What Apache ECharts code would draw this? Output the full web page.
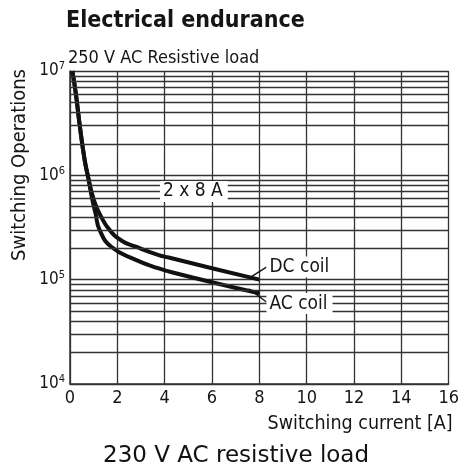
<!DOCTYPE html>
<html>
<head>
<meta charset="utf-8">
<script src="https://cdn.jsdelivr.net/npm/echarts@6/dist/echarts.min.js"></script>
<style>html,body{margin:0;padding:0;background:#fff}#c{width:462px;height:470px}</style>
</head>
<body>
<div id="c"></div>
<script>
// ---- data ----
const xTicks = [0, 2, 4, 6, 8, 10, 12, 14, 16];
const yDecades = [1e4, 1e5, 1e6, 1e7];
const yMinorGrid = [
  2e4, 3e4, 4e4, 5e4, 6e4, 7e4, 8e4, 9e4,
  2e5, 3e5, 4e5, 5e5, 6e5, 7e5, 8e5, 9e5,
  2e6, 3e6, 4e6, 5e6, 6e6, 7e6, 8e6, 9e6
];
const dcCurrent = [0.1, 0.25, 0.42, 0.62, 0.75, 1.02, 1.32, 1.67, 2.2, 2.78, 3.75, 4.17, 6.04, 8.0];
const dcOps     = [1e7, 6e6, 2.9e6, 1.4e6, 1.0e6, 5.7e5, 4.0e5, 3.0e5, 2.35e5, 2.07e5, 1.72e5, 1.63e5, 1.28e5, 1.0e5];
const acCurrent = [0.1, 0.25, 0.42, 0.62, 0.75, 0.92, 1.08, 1.25, 1.74, 2.78, 3.75, 4.17, 6.04, 8.0];
const acOps     = [1e7, 6e6, 2.9e6, 1.4e6, 1.0e6, 6.2e5, 4.3e5, 3.0e5, 2.07e5, 1.55e5, 1.28e5, 1.2e5, 9.4e4, 7.4e4];

const COND = "'Liberation Sans Narrow', 'DejaVu Sans Condensed', 'Roboto Condensed', sans-serif";
const INK = '#151515';
const GRID = '#333';

const chart = echarts.init(document.getElementById('c'), null, {renderer: 'canvas'});
const zip = (a, b) => a.map((v, i) => [v, b[i]]);

chart.setOption({
  backgroundColor: '#fff',
  animation: false,
  title: [
    {text: 'Electrical endurance', left: 61, top: 5,
     textStyle: {fontFamily: COND, fontSize: 23, fontWeight: 'bold', color: INK}},
    {text: '250 V AC Resistive load', left: 63, top: 44,
     textStyle: {fontFamily: COND, fontSize: 18, fontWeight: 'normal', color: INK}},
    {text: '230 V AC resistive load', left: 98, top: 440,
     textStyle: {fontFamily: "'DejaVu Sans', sans-serif", fontSize: 23, fontWeight: 'normal', color: '#111'}}
  ],
  graphic: [
    {type: 'text', x: 20, y: 165, rotation: Math.PI / 2,
     style: {text: 'Switching Operations', fontFamily: COND, fontSize: 20, fill: INK,
             align: 'center', verticalAlign: 'middle'}}
  ],
  grid: {left: 70, right: 8, top: 71, bottom: 86},
  xAxis: {
    type: 'value', min: 0, max: 16, interval: 2,
    name: 'Switching current [A]', nameLocation: 'end', nameGap: 0,
    nameTextStyle: {fontFamily: COND, fontSize: 19.5, color: INK, align: 'right',
                    verticalAlign: 'top', padding: [30, -4, 0, 0]},
    axisLine: {show: true, lineStyle: {color: GRID, width: 1.5}},
    axisTick: {show: false},
    axisLabel: {fontFamily: COND, fontSize: 18, color: INK, margin: 5,
                formatter: v => xTicks.includes(v) ? String(v) : ''},
    splitLine: {show: true, lineStyle: {color: GRID, width: 1.3}}
  },
  yAxis: {
    type: 'log', logBase: 10, min: yDecades[0], max: yDecades[yDecades.length - 1],
    axisLine: {show: true, lineStyle: {color: GRID, width: 1.5}},
    axisTick: {show: false},
    axisLabel: {
      fontFamily: COND, fontSize: 17, color: INK, margin: 5,
      formatter: v => '{b|10}{s|' + Math.round(Math.log10(v)) + '}',
      rich: {
        b: {fontFamily: COND, fontSize: 17, color: INK},
        s: {fontFamily: COND, fontSize: 11, color: INK, padding: [0, 0, 9, 0]}
      }
    },
    splitLine: {show: true, lineStyle: {color: GRID, width: 1.3}}
  },
  series: [
    {
      type: 'line', name: 'grid', data: [], z: 1, silent: true,
      markLine: {
        silent: true, symbol: ['none', 'none'], animation: false,
        label: {show: false},
        lineStyle: {color: GRID, width: 1.3, type: 'solid'},
        data: yMinorGrid.map(v => ({yAxis: v}))
      }
    },
    {
      type: 'line', name: 'DC coil', data: zip(dcCurrent, dcOps), z: 4,
      smooth: 0.5, showSymbol: false, symbol: 'none',
      lineStyle: {color: '#111', width: 4},
      markLine: {
        silent: true, symbol: ['none', 'none'], label: {show: false},
        lineStyle: {color: '#111', width: 1.3, type: 'solid'},
        data: [[{coord: [7.55, 1.03e5]}, {coord: [8.3, 1.32e5]}]]
      }
    },
    {
      type: 'line', name: 'AC coil', data: zip(acCurrent, acOps), z: 4,
      smooth: 0.5, showSymbol: false, symbol: 'none',
      lineStyle: {color: '#111', width: 4},
      markLine: {
        silent: true, symbol: ['none', 'none'], label: {show: false},
        lineStyle: {color: '#111', width: 1.3, type: 'solid'},
        data: [[{coord: [7.55, 8.2e4]}, {coord: [8.3, 6.1e4]}]]
      }
    },
    {
      type: 'scatter', name: 'labels', z: 6, symbolSize: 0, silent: true,
      itemStyle: {opacity: 1},
      data: [
        {name: '2 x 8 A', value: [3.8, 7.0e5]},
        {name: 'DC coil', value: [8.3, 1.32e5]},
        {name: 'AC coil', value: [8.3, 5.9e4]}
      ],
      label: {
        show: true, position: 'right', distance: 0, formatter: '{b}',
        fontFamily: COND, fontSize: 19, color: INK,
        backgroundColor: '#fff', padding: [1, 5, 1, 3]
      }
    }
  ]
});
</script>
</body>
</html>
